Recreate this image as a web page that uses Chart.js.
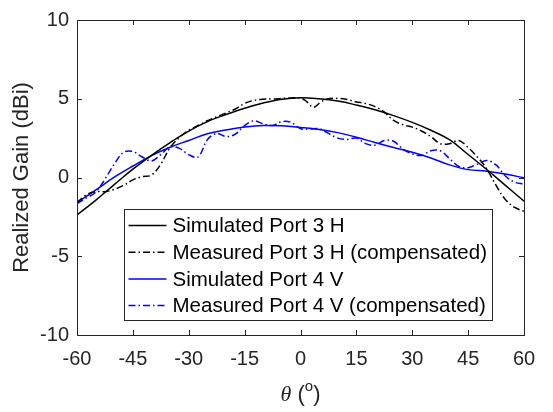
<!DOCTYPE html>
<html>
<head>
<meta charset="utf-8">
<script src="https://cdn.jsdelivr.net/npm/chart.js@4.4.0/dist/chart.umd.min.js"></script>
<style>
    html, body { margin: 0; padding: 0; background: #fff; }
</style>
</head>
<body>
<canvas id="gainChart" width="553" height="412"></canvas>
<script>
// Angles (deg) and realized gain (dBi)
const simTheta = [-60, -55, -50, -45, -40, -35, -30, -25, -20, -15, -10, -5, 0, 5, 10, 15, 20, 25, 30, 35, 40, 45, 50, 55, 60];
const simPort3H = [-2.38, -1.45, -0.45, 0.53, 1.41, 2.22, 2.95, 3.55, 4.0, 4.4, 4.73, 4.97, 5.07, 5.0, 4.85, 4.6, 4.3, 3.93, 3.5, 3.0, 2.4, 1.46, 0.51, -0.5, -1.5];
const simPort4V = [-1.6, -0.8, 0.02, 0.73, 1.39, 1.92, 2.35, 2.78, 3.02, 3.2, 3.3, 3.28, 3.18, 3.05, 2.85, 2.56, 2.22, 1.9, 1.6, 1.24, 0.8, 0.5, 0.4, 0.22, -0.02];

const meas3Theta = [-60, -57.5, -55, -52.5, -50, -47.5, -45, -42.5, -40, -37.5, -35, -32.5, -30, -27.5, -25, -22.5, -20, -17.5, -15, -12.5, -10, -7.5, -5, -2.5, 0, 1.5, 3.5, 5.5, 7.5, 10, 12.5, 15, 17.5, 20, 22.5, 25, 27.5, 30, 32.5, 35, 37.5, 40, 42.5, 45, 47.5, 50, 52.5, 55, 57.5, 60];
const measPort3H = [-1.6, -1.1, -0.9, -0.9, -0.75, -0.5, -0.15, 0.05, 0.15, 0.85, 1.9, 2.55, 3.0, 3.3, 3.6, 3.85, 4.1, 4.35, 4.7, 4.9, 4.97, 4.98, 5.02, 5.05, 5.05, 4.85, 4.46, 4.8, 5.0, 5.02, 4.95, 4.8, 4.7, 4.5, 4.15, 3.62, 3.35, 3.2, 2.95, 2.6, 2.15, 2.15, 2.35, 1.9, 1.3, 0.55, -0.5, -1.4, -1.9, -2.15];

const meas4Theta = [-60, -57.5, -55, -52.5, -50, -47.5, -45, -42.5, -40, -37.5, -35, -32.5, -30, -27.5, -25, -22.5, -20, -17.5, -15, -12.5, -10, -7.5, -5, -2.5, 0, 2.5, 5, 7.5, 10, 12.5, 15, 17.5, 20, 22.5, 25, 27.5, 30, 32.5, 35, 37.5, 40, 42.5, 45, 47.5, 50, 52.5, 55, 57.5, 60];
const measPort4V = [-1.65, -1.3, -0.95, -0.1, 0.85, 1.6, 1.65, 1.3, 1.05, 1.45, 1.95, 1.85, 1.45, 1.3, 2.4, 2.8, 2.6, 2.75, 3.3, 3.6, 3.4, 3.3, 3.55, 3.5, 3.1, 3.08, 3.1, 2.8, 2.5, 2.42, 2.5, 2.15, 2.05, 2.35, 2.3, 1.8, 1.5, 1.4, 1.7, 1.7, 1.2, 0.7, 0.62, 0.85, 1.08, 0.8, 0.1, -0.3, -0.42];

const xTicks = [-60, -45, -30, -15, 0, 15, 30, 45, 60];
const yTicks = [-10, -5, 0, 5, 10];

const seriesNames = ['Simulated Port 3 H', 'Measured Port 3 H (compensated)', 'Simulated Port 4 V', 'Measured Port 4 V (compensated)'];

const AXIS_COLOR = '#262626';
const FONT = '"Liberation Sans", Arial, Helvetica, sans-serif';
const DASH_DOT = [7, 3, 1.5, 3];

const toPoints = (xs, ys) => xs.map((x, i) => ({ x: x, y: ys[i] }));

// Draws the MATLAB-like box with inward ticks, the legend inside the axes
// and the x label with its superscript
const matlabAxes = {
    id: 'matlabAxes',
    afterDatasetsDraw(chart) {
        const { ctx, chartArea: a, scales } = chart;
        const x = scales.x, y = scales.y;
        ctx.save();
        ctx.strokeStyle = AXIS_COLOR;
        ctx.lineWidth = 1;
        ctx.setLineDash([]);
        ctx.beginPath();
        xTicks.forEach(v => {
            const px = Math.round(x.getPixelForValue(v)) + 0.5;
            ctx.moveTo(px, a.bottom); ctx.lineTo(px, a.bottom - 5);
            ctx.moveTo(px, a.top); ctx.lineTo(px, a.top + 5);
        });
        yTicks.forEach(v => {
            const py = Math.round(y.getPixelForValue(v)) + 0.5;
            ctx.moveTo(a.left, py); ctx.lineTo(a.left + 5, py);
            ctx.moveTo(a.right, py); ctx.lineTo(a.right - 5, py);
        });
        ctx.stroke();
        ctx.strokeRect(Math.round(a.left) + 0.5, Math.round(a.top) + 0.5,
            Math.round(a.right - a.left), Math.round(a.bottom - a.top));

        // legend
        const lx = Math.round(a.left) + 47.5, ly = 209.5, lw = 368, lh = 111;
        ctx.fillStyle = '#fff';
        ctx.fillRect(lx, ly, lw, lh);
        ctx.strokeRect(lx, ly, lw, lh);
        ctx.font = '20.5px ' + FONT;
        ctx.textBaseline = 'middle';
        ctx.textAlign = 'left';
        chart.data.datasets.forEach((ds, i) => {
            const cy = ly + 16 + i * 26.7;
            ctx.strokeStyle = ds.borderColor;
            ctx.lineWidth = ds.borderWidth;
            ctx.setLineDash(ds.borderDash || []);
            ctx.beginPath();
            ctx.moveTo(lx + 4, cy); ctx.lineTo(lx + 42, cy);
            ctx.stroke();
            ctx.fillStyle = '#000';
            ctx.fillText(ds.label, lx + 48, cy + 1);
        });
        ctx.setLineDash([]);

        // x label: theta (o)
        const cx = (a.left + a.right) / 2;
        const base = 401;
        const fTheta = 'italic 22px "Liberation Serif", "DejaVu Serif", serif';
        const fText = '22px ' + FONT;
        const fSup = '15px ' + FONT;
        ctx.textBaseline = 'alphabetic';
        ctx.font = fTheta; const wT = ctx.measureText('\u03b8').width;
        ctx.font = fText; const wO = ctx.measureText(' (').width, wC = ctx.measureText(')').width;
        ctx.font = fSup; const wS = ctx.measureText('o').width;
        let px = cx - (wT + wO + wS + wC) / 2;
        ctx.fillStyle = AXIS_COLOR;
        ctx.font = fTheta; ctx.fillText('\u03b8', px, base); px += wT;
        ctx.font = fText; ctx.fillText(' (', px, base); px += wO;
        ctx.font = fSup; ctx.fillText('o', px, base - 10); px += wS;
        ctx.font = fText; ctx.fillText(')', px, base);
        ctx.restore();
    }
};

new Chart(document.getElementById('gainChart').getContext('2d'), {
    type: 'line',
    data: {
        datasets: [
            { label: seriesNames[0], data: toPoints(simTheta, simPort3H), borderColor: '#000000', borderWidth: 1.5, tension: 0.4 },
            { label: seriesNames[1], data: toPoints(meas3Theta, measPort3H), borderColor: '#000000', borderWidth: 1.5, borderDash: DASH_DOT, tension: 0.35 },
            { label: seriesNames[2], data: toPoints(simTheta, simPort4V), borderColor: '#0000ff', borderWidth: 1.5, tension: 0.4 },
            { label: seriesNames[3], data: toPoints(meas4Theta, measPort4V), borderColor: '#0000ff', borderWidth: 1.5, borderDash: DASH_DOT, tension: 0.35 }
        ]
    },
    options: {
        responsive: false,
        animation: false,
        devicePixelRatio: 1,
        elements: { point: { radius: 0 } },
        layout: { padding: { left: 0, right: 29, top: 10, bottom: 0 } },
        plugins: {
            legend: { display: false },
            tooltip: { enabled: false }
        },
        scales: {
            x: {
                type: 'linear',
                min: -60,
                max: 60,
                afterFit: (scale) => { scale.height = 77; },
                afterBuildTicks: (scale) => { scale.ticks = xTicks.map(v => ({ value: v })); },
                grid: { display: false, drawTicks: false },
                border: { display: false },
                ticks: { color: AXIS_COLOR, font: { family: FONT, size: 20 }, padding: 12, maxRotation: 0 }
            },
            y: {
                type: 'linear',
                min: -10,
                max: 10,
                afterFit: (scale) => { scale.width = 77; },
                afterBuildTicks: (scale) => { scale.ticks = yTicks.map(v => ({ value: v })); },
                grid: { display: false, drawTicks: false },
                border: { display: false },
                ticks: { color: AXIS_COLOR, font: { family: FONT, size: 20 }, padding: 8 },
                title: {
                    display: true,
                    text: 'Realized Gain (dBi)',
                    color: AXIS_COLOR,
                    font: { family: FONT, size: 22 },
                    padding: { top: 9, bottom: 0 }
                }
            }
        }
    },
    plugins: [matlabAxes]
});
</script>
</body>
</html>
